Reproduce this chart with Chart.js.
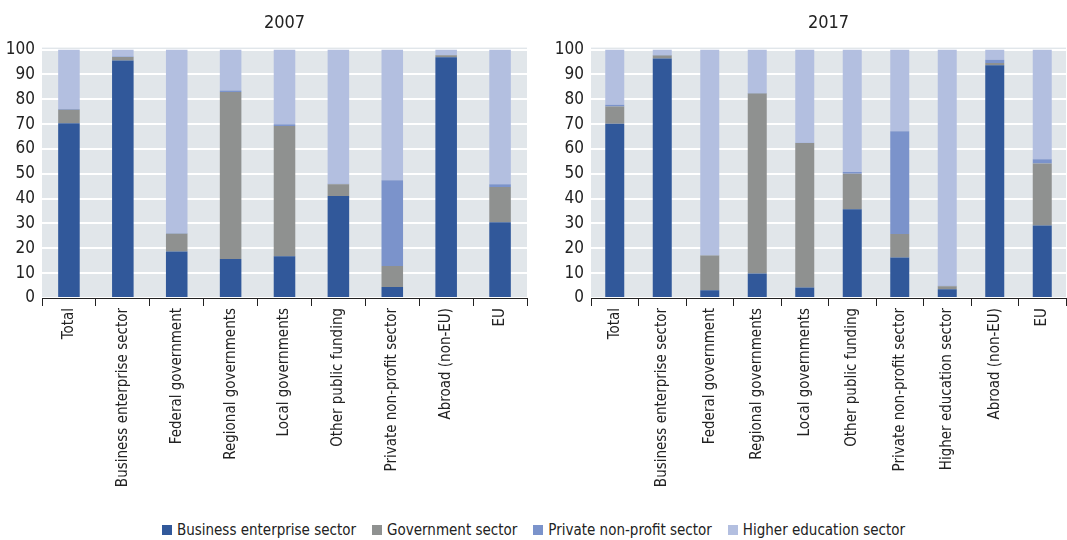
<!DOCTYPE html>
<html lang="en">
<head>
  <meta charset="UTF-8">
  <title>R&D funding by source and sector, 2007 and 2017</title>
  <style>
    body { margin: 0; width: 1067px; height: 540px; background: #fff; position: relative; overflow: hidden;
           font-family: "Liberation Sans Narrow", "DejaVu Sans Condensed", Arial, sans-serif; }
    .box { position: absolute; top: 0; height: 505px; }
    #left { left: 0; width: 535px; }
    #right { left: 545px; width: 522px; }
    .legend { position: absolute; top: 521px; left: 0; width: 1067px; text-align: center; font-size: 15px; color: #222; }
    .legend span { display: inline-block; margin: 0 8px; }
    .legend i { display: inline-block; width: 10px; height: 10px; margin-right: 5px; vertical-align: 0; }
  </style>
</head>
<body>

<div class="box" id="left"><canvas id="chart2007"></canvas></div>
<div class="box" id="right"><canvas id="chart2017"></canvas></div>
<div class="legend" id="legend"></div>

<script src="https://cdn.jsdelivr.net/npm/chart.js"></script>
<script>
// sources of funds (categories) for each year
const labels2007 = ['Total', 'Business enterprise sector', 'Federal government', 'Regional governments',
  'Local governments', 'Other public funding', 'Private non-profit sector', 'Abroad (non-EU)', 'EU'];
const labels2017 = ['Total', 'Business enterprise sector', 'Federal government', 'Regional governments',
  'Local governments', 'Other public funding', 'Private non-profit sector', 'Higher education sector',
  'Abroad (non-EU)', 'EU'];

const seriesNames = ['Business enterprise sector', 'Government sector', 'Private non-profit sector', 'Higher education sector'];
const colors = ['#31589a', '#8f9190', '#7b93cb', '#b3bfe0'];

// shares (%) by performing sector, 2007
const business2007 = [70.4, 95.6, 18.7, 15.7, 16.8, 41.1, 4.4, 96.9, 30.5];
const government2007 = [5.4, 1.4, 7.2, 67.2, 52.4, 4.7, 8.5, 0.8, 14.2];
const privateNP2007 = [0.3, 0.2, 0.2, 0.6, 0.7, 0.2, 34.5, 0.1, 1.1];
const higherEd2007 = [23.9, 2.8, 73.9, 16.5, 30.1, 54.0, 52.6, 2.2, 54.2];

// shares (%) by performing sector, 2017
const business2017 = [70.1, 96.4, 3.1, 9.9, 4.2, 35.7, 16.3, 3.5, 93.7, 29.2];
const government2017 = [7.0, 1.2, 14.0, 72.4, 58.2, 14.3, 9.5, 1.2, 0.9, 24.9];
const privateNP2017 = [0.7, 0.2, 0.1, 0.2, 0.1, 0.7, 41.3, 0.2, 1.3, 1.8];
const higherEd2017 = [22.2, 2.2, 82.8, 17.5, 37.5, 49.3, 32.9, 95.1, 4.1, 44.1];

const yTicks = [0, 10, 20, 30, 40, 50, 60, 70, 80, 90, 100];

const FONT = '"Liberation Sans Narrow", "DejaVu Sans Condensed", Arial, sans-serif';

const plotBg = {
  id: 'plotBg',
  beforeDraw(chart) {
    const { ctx, chartArea: a } = chart;
    ctx.save();
    ctx.fillStyle = '#e1e6ea';
    ctx.fillRect(a.left, a.top - 2, a.right - a.left, a.bottom - a.top + 2);
    ctx.restore();
  }
};

function makeChart(id, title, labels, data, yWidth, padRight) {
  return new Chart(document.getElementById(id), {
    type: 'bar',
    data: {
      labels,
      datasets: data.map((d, i) => ({
        label: seriesNames[i],
        data: d,
        backgroundColor: colors[i],
        borderWidth: 0,
        barPercentage: 0.4,
        categoryPercentage: 1
      }))
    },
    options: {
      responsive: true,
      maintainAspectRatio: false,
      animation: false,
      layout: { padding: { right: padRight, top: 0, bottom: 0 } },
      plugins: {
        legend: { display: false },
        tooltip: { enabled: false },
        title: {
          display: true, text: title, fullSize: false, color: '#222',
          font: { family: FONT, size: 18, weight: 'normal' },
          padding: { top: 13, bottom: 15 }
        }
      },
      scales: {
        x: {
          stacked: true,
          grid: { display: true, drawOnChartArea: false, offset: true, color: '#222', tickLength: 8, tickWidth: 1 },
          border: { display: true, color: '#222', width: 1 },
          ticks: { color: '#222', font: { family: FONT, size: 15 }, minRotation: 90, maxRotation: 90, autoSkip: false, padding: 2 },
          afterFit(s) { s.height = 505 - 298; }
        },
        y: {
          stacked: true,
          min: 0, max: 100,
          afterBuildTicks(s) { s.ticks = yTicks.map(v => ({ value: v })); },
          grid: { color: '#ffffff', lineWidth: 2, drawTicks: false },
          border: { display: false },
          ticks: { color: '#222', font: { family: FONT, size: 17 }, padding: 7 },
          afterFit(s) { s.width = yWidth; }
        }
      }
    },
    plugins: [plotBg]
  });
}

makeChart('chart2007', '2007', labels2007, [business2007, government2007, privateNP2007, higherEd2007], 42, 8);
makeChart('chart2017', '2017', labels2017, [business2017, government2017, privateNP2017, higherEd2017], 46, 1);

document.getElementById('legend').innerHTML = seriesNames
  .map((n, i) => `<span><i style="background:${colors[i]}"></i>${n}</span>`).join('');
</script>

</body>
</html>
